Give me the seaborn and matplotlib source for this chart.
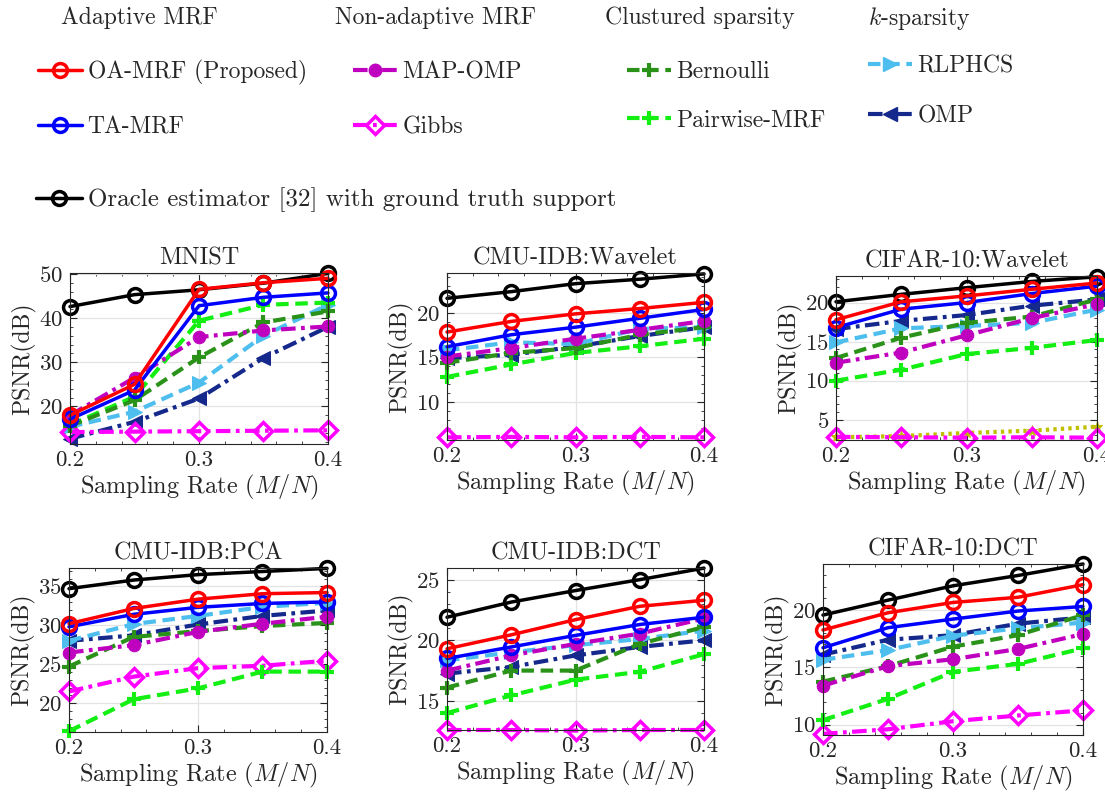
import numpy as np
import pandas as pd
import seaborn as sns
import matplotlib
matplotlib.use("Agg")
import matplotlib.pyplot as plt
from matplotlib.lines import Line2D
from matplotlib.ticker import AutoMinorLocator

# dati
sampling_rate = [0.2, 0.25, 0.3, 0.35, 0.4]

methods = ["OMP", "RLPHCS", "Gibbs", "Pairwise-MRF", "Bernoulli", "MAP-OMP",
           "Oracle", "TA-MRF", "OA-MRF"]

# righe nello stesso ordine di methods
mnist_psnr = [
    [12.7, 16.5, 21.8, 31.0, 38.0],
    [15.4, 18.8, 25.4, 36.0, 43.0],
    [14.2, 14.3, 14.4, 14.5, 14.6],
    [15.8, 22.2, 39.4, 43.0, 43.5],
    [15.6, 21.4, 31.1, 39.0, 41.5],
    [18.0, 26.5, 35.7, 37.2, 38.1],
    [42.6, 45.3, 46.4, 47.9, 50.1],
    [17.1, 23.7, 42.8, 44.7, 45.7],
    [18.0, 25.0, 46.5, 48.0, 49.0],
]
cmu_wav_psnr = [
    [14.9, 15.3, 16.2, 17.4, 18.4],
    [15.8, 16.7, 16.5, 18.2, 18.4],
    [6.0, 6.05, 6.0, 6.05, 6.0],
    [12.8, 14.2, 15.5, 16.25, 17.1],
    [14.4, 15.5, 16.05, 17.55, 18.4],
    [15.1, 16.05, 17.1, 18.1, 19.1],
    [21.65, 22.4, 23.3, 23.8, 24.4],
    [16.2, 17.55, 18.4, 19.4, 20.4],
    [17.85, 19.05, 19.9, 20.5, 21.2],
]
cifar_wav_psnr = [
    [16.6, 17.65, 18.4, 19.6, 20.4],
    [14.9, 16.7, 17.0, 17.4, 19.1],
    [2.8, 2.75, 2.7, 2.75, 2.7],
    [10.0, 11.4, 13.4, 14.2, 15.2],
    [12.9, 15.5, 17.4, 18.2, 20.4],
    [12.3, 13.6, 15.8, 18.0, 19.8],
    [20.1, 21.05, 21.9, 22.7, 23.3],
    [16.8, 19.15, 20.0, 21.15, 22.1],
    [17.8, 20.1, 20.85, 21.7, 22.5],
]
cifar_wav_extra = [2.75, 2.9, 3.3, 3.6, 4.1]
cmu_pca_psnr = [
    [28.0, 28.7, 30.1, 31.2, 31.9],
    [28.0, 30.15, 31.2, 32.35, 32.9],
    [21.5, 23.4, 24.5, 24.8, 25.45],
    [16.4, 20.5, 21.9, 24.05, 24.05],
    [24.7, 28.5, 29.25, 29.9, 30.3],
    [26.5, 27.45, 29.15, 30.2, 31.1],
    [34.7, 35.8, 36.5, 36.9, 37.3],
    [29.8, 31.4, 32.3, 32.8, 33.0],
    [30.2, 32.15, 33.35, 34.05, 34.2],
]
cmu_dct_psnr = [
    [17.25, 17.8, 18.75, 19.45, 20.0],
    [18.35, 19.0, 19.6, 20.1, 20.8],
    [12.6, 12.6, 12.55, 12.6, 12.6],
    [14.0, 15.45, 16.75, 17.4, 18.85],
    [16.1, 17.5, 17.5, 19.7, 21.1],
    [17.5, 18.75, 19.7, 20.55, 21.8],
    [21.9, 23.15, 24.1, 25.0, 25.95],
    [18.5, 19.45, 20.4, 21.3, 21.9],
    [19.3, 20.45, 21.7, 22.8, 23.3],
]
cifar_dct_psnr = [
    [16.1, 17.4, 17.8, 18.8, 19.35],
    [15.65, 16.5, 17.75, 18.4, 18.9],
    [9.2, 9.6, 10.3, 10.8, 11.25],
    [10.4, 12.25, 14.6, 15.3, 16.65],
    [13.75, 15.1, 16.8, 17.8, 19.55],
    [13.4, 15.1, 15.7, 16.6, 17.9],
    [19.55, 20.85, 22.1, 23.0, 24.0],
    [16.7, 18.45, 19.2, 19.9, 20.3],
    [18.25, 19.75, 20.65, 21.1, 22.2],
]

panel_titles = ["MNIST", "CMU-IDB:Wavelet", "CIFAR-10:Wavelet",
                "CMU-IDB:PCA", "CMU-IDB:DCT", "CIFAR-10:DCT"]
panel_data = [mnist_psnr, cmu_wav_psnr, cifar_wav_psnr,
              cmu_pca_psnr, cmu_dct_psnr, cifar_dct_psnr]
panel_ylim = [(11.5, 50.2), (5.7, 24.5), (2.4, 23.4),
              (16.3, 37.35), (12.6, 25.96), (9.1, 24.0)]
panel_yticks = [[20, 30, 40, 50], [10, 15, 20], [5, 10, 15, 20],
                [20, 25, 30, 35], [15, 20, 25], [10, 15, 20]]
# riquadri degli assi in pixel (left, top, right, bottom)
panel_box = [(70, 273, 328, 444), (447, 273, 704, 440), (836, 276, 1097, 440),
             (69, 568, 327, 732), (447, 568, 704, 730), (823, 564, 1083, 735)]

DASH = (0, (3.0, 1.6))
DASHDOT = (0, (3.5, 1.3, 0.9, 1.3))

stili = {
    "OMP": dict(color="#15298c", linestyle=DASHDOT, marker="<", markersize=10,
                markerfacecolor="#15298c", markeredgecolor="#15298c", linewidth=3),
    "RLPHCS": dict(color="#4dbeee", linestyle=DASH, marker=">", markersize=10,
                   markerfacecolor="#4dbeee", markeredgecolor="#4dbeee", linewidth=3),
    "Gibbs": dict(color="#ff00ff", linestyle=DASHDOT, marker="D", markersize=9,
                  markerfacecolor="none", markeredgecolor="#ff00ff",
                  markeredgewidth=2.5, linewidth=3),
    "Pairwise-MRF": dict(color="#13ee13", linestyle=DASH, marker="+", markersize=10,
                         markeredgecolor="#13ee13", markeredgewidth=3, linewidth=3),
    "Bernoulli": dict(color="#2a9218", linestyle=DASH, marker="+", markersize=10,
                      markeredgecolor="#2a9218", markeredgewidth=3, linewidth=3),
    "MAP-OMP": dict(color="#bf00bf", linestyle=DASHDOT, marker="o", markersize=9,
                    markerfacecolor="#bf00bf", markeredgecolor="#bf00bf", linewidth=3),
    "Oracle": dict(color="black", linestyle="-", marker="o", markersize=10,
                   markerfacecolor="none", markeredgecolor="black",
                   markeredgewidth=2.5, linewidth=2.5),
    "TA-MRF": dict(color="#0000ff", linestyle="-", marker="o", markersize=10,
                   markerfacecolor="none", markeredgecolor="#0000ff",
                   markeredgewidth=2.5, linewidth=2.5),
    "OA-MRF": dict(color="#ff0000", linestyle="-", marker="o", markersize=10,
                   markerfacecolor="none", markeredgecolor="#ff0000",
                   markeredgewidth=2.5, linewidth=2.5),
}
stile_extra = dict(color="#bfbf00", linestyle=(0, (0.8, 1.0)), marker="*",
                   markersize=8, markerfacecolor="#bfbf00",
                   markeredgecolor="#bfbf00", linewidth=3)

sns.set_style("ticks")
plt.rcParams["font.family"] = "serif"
plt.rcParams["font.serif"] = ["cmr10", "DejaVu Serif"]
plt.rcParams["mathtext.fontset"] = "cm"
plt.rcParams["axes.formatter.use_mathtext"] = True
plt.rcParams["axes.unicode_minus"] = False

W, H = 1105, 798
fig = plt.figure(figsize=(W / 100, H / 100), dpi=100)

for k in range(6):
    l, t, r, b = panel_box[k]
    ax = fig.add_axes([l / W, 1 - b / H, (r - l) / W, (b - t) / H])
    for i, m in enumerate(methods):
        df = pd.DataFrame({"rate": sampling_rate, "psnr": panel_data[k][i]})
        sns.lineplot(data=df, x="rate", y="psnr", ax=ax, clip_on=False,
                     estimator=None, **stili[m])
    if k == 2:
        df = pd.DataFrame({"rate": sampling_rate, "psnr": cifar_wav_extra})
        sns.lineplot(data=df, x="rate", y="psnr", ax=ax, clip_on=False,
                     estimator=None, zorder=1.9, **stile_extra)
    ax.set_xlim(0.2, 0.4)
    ax.set_ylim(*panel_ylim[k])
    ax.set_xticks([0.2, 0.3, 0.4])
    ax.set_xticklabels(["0.2", "0.3", "0.4"])
    ax.set_yticks(panel_yticks[k])
    ax.xaxis.set_minor_locator(AutoMinorLocator(5))
    ax.yaxis.set_minor_locator(AutoMinorLocator(5))
    ax.grid(True, which="major", color="#e3e3e3", linewidth=0.9)
    ax.set_axisbelow(True)
    ax.tick_params(which="both", direction="in", top=True, right=True,
                   labelsize=16.5, colors="#262626", pad=5)
    ax.tick_params(which="major", length=5, width=0.8)
    ax.tick_params(which="minor", length=2.5, width=0.6)
    for s in ax.spines.values():
        s.set_color("#262626")
        s.set_linewidth(0.8)
    ax.set_title(panel_titles[k], fontsize=17.5, pad=6)
    ax.set_xlabel("Sampling Rate ($M/N$)", fontsize=17.5, labelpad=2)
    ax.set_ylabel("PSNR(dB)", fontsize=17, labelpad=2)

# legenda in alto, a gruppi
def voce(m, testo, x, y, fs=17):
    h = Line2D([], [], **stili[m])
    fig.legend([h], [testo], loc="center left", bbox_to_anchor=(x / W, 1 - y / H),
               frameon=False, borderpad=0, borderaxespad=0, handlelength=1.85,
               handletextpad=0.25, fontsize=fs)

fig.text(61 / W, 1 - 18 / H, "Adaptive MRF", fontsize=17, va="center")
fig.text(335 / W, 1 - 18 / H, "Non-adaptive MRF", fontsize=17, va="center")
fig.text(605 / W, 1 - 18 / H, "Clustured sparsity", fontsize=17, va="center")
fig.text(868 / W, 1 - 18 / H, "$k$-sparsity", fontsize=17, va="center")

voce("OA-MRF", "OA-MRF (Proposed)", 38, 72)
voce("TA-MRF", "TA-MRF", 38, 127)
voce("MAP-OMP", "MAP-OMP", 353, 72)
voce("Gibbs", "Gibbs", 353, 127)
voce("Bernoulli", "Bernoulli", 627, 72)
voce("Pairwise-MRF", "Pairwise-MRF", 627, 120)
voce("RLPHCS", "RLPHCS", 868, 66)
voce("OMP", "OMP", 868, 116)
voce("Oracle", "Oracle estimator [32] with ground truth support", 36, 200, fs=18)

fig.savefig("out.png", dpi=100)
